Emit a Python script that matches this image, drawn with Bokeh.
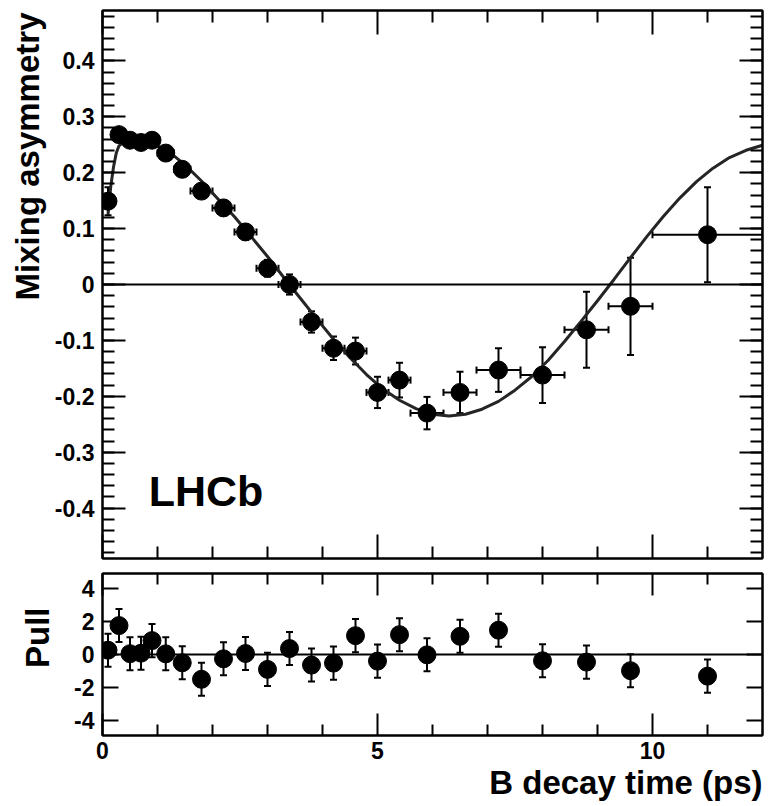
from bokeh.plotting import figure
from bokeh.models import (LinearAxis, Range1d, ColumnDataSource, Whisker, TeeHead,
                          Span, Label, Title, FixedTicker, CustomLabelingPolicy)
from bokeh.layouts import column
from bokeh.embed import file_html
from bokeh.resources import INLINE

# ---------------- data ----------------
t_center = [0.10, 0.30, 0.50, 0.70, 0.90, 1.15, 1.45, 1.80, 2.20, 2.60, 3.00, 3.40,
            3.80, 4.20, 4.60, 5.00, 5.40, 5.90, 6.50, 7.20, 8.00, 8.80, 9.60, 11.00]
t_low = [0.0, 0.2, 0.4, 0.6, 0.8, 1.0, 1.3, 1.6, 2.0, 2.4, 2.8, 3.2,
         3.6, 4.0, 4.4, 4.8, 5.2, 5.6, 6.2, 6.8, 7.6, 8.4, 9.2, 10.0]
t_high = [0.2, 0.4, 0.6, 0.8, 1.0, 1.3, 1.6, 2.0, 2.4, 2.8, 3.2, 3.6,
          4.0, 4.4, 4.8, 5.2, 5.6, 6.2, 6.8, 7.6, 8.4, 9.2, 10.0, 12.0]
asym = [0.149, 0.268, 0.258, 0.254, 0.258, 0.235, 0.206, 0.167, 0.137, 0.094, 0.029, 0.000,
        -0.067, -0.114, -0.119, -0.193, -0.171, -0.230, -0.193, -0.153, -0.162, -0.081, -0.039, 0.089]
asym_err = [0.025, 0.008, 0.008, 0.008, 0.008, 0.010, 0.011, 0.012, 0.013, 0.014, 0.015, 0.018,
            0.019, 0.021, 0.024, 0.028, 0.031, 0.029, 0.037, 0.039, 0.050, 0.068, 0.087, 0.085]
pull = [0.26, 1.75, 0.05, 0.08, 0.84, 0.04, -0.50, -1.50, -0.26, 0.06, -0.90, 0.36,
        -0.64, -0.52, 1.14, -0.40, 1.20, -0.02, 1.10, 1.47, -0.38, -0.46, -0.98, -1.31]
pull_err = [1.0, 1.0, 1.0, 1.0, 1.0, 1.0, 1.0, 1.0, 1.0, 1.0, 1.0, 1.0,
            1.0, 1.0, 1.0, 1.0, 1.0, 1.0, 1.0, 1.0, 1.0, 1.0, 1.0, 1.0]

# fit curve
curve_t = [0.10, 0.15, 0.20, 0.25, 0.30, 0.40, 0.50, 0.70, 0.90, 1.20, 1.50, 1.80, 2.10,
           2.40, 2.70, 3.00, 3.30, 3.60, 3.90, 4.20, 4.50, 4.80, 5.10, 5.40, 5.70, 6.00,
           6.30, 6.60, 6.90, 7.20, 7.50, 7.80, 8.10, 8.40, 8.70, 9.00, 9.30, 9.60, 9.90,
           10.20, 10.50, 10.80, 11.10, 11.40, 11.70, 12.00]
curve_a = [0.125, 0.175, 0.210, 0.235, 0.248, 0.256, 0.259, 0.258, 0.252, 0.238, 0.214, 0.185, 0.153,
           0.121, 0.086, 0.050, 0.012, -0.025, -0.062, -0.098, -0.131, -0.161, -0.187, -0.207, -0.222, -0.232,
           -0.235, -0.232, -0.223, -0.209, -0.189, -0.165, -0.136, -0.102, -0.066, -0.029, 0.009, 0.048, 0.086,
           0.122, 0.155, 0.184, 0.208, 0.227, 0.240, 0.249]

x_ticks = [0, 5, 10]
x_minor = [1, 2, 3, 4, 6, 7, 8, 9, 11]
asym_ticks = [-0.4, -0.3, -0.2, -0.1, 0.0, 0.1, 0.2, 0.3, 0.4]
asym_labels = ["-0.4", "-0.3", "-0.2", "-0.1", "0", "0.1", "0.2", "0.3", "0.4"]
asym_minor = [round(-0.48 + 0.02 * i, 2) for i in range(49)]
pull_ticks = [-4, -2, 0, 2, 4]
pull_labels = ["-4", "-2", "0", "2", "4"]

FONT = "Liberation Sans"
TICK_FS = "23px"
TITLE_FS = "33px"


def make_axis(kind, ticker, overrides, maj_len, min_len, labels):
    ax = LinearAxis(ticker=ticker)
    ax.axis_line_width = 2
    ax.axis_line_color = "black"
    ax.major_tick_in = maj_len
    ax.major_tick_out = 0
    ax.minor_tick_in = min_len
    ax.minor_tick_out = 0
    ax.major_tick_line_width = 2
    ax.minor_tick_line_width = 2
    ax.major_tick_line_color = "black"
    ax.minor_tick_line_color = "black"
    if labels:
        ax.major_label_overrides = overrides
        ax.major_label_text_font = FONT
        ax.major_label_text_font_style = "bold"
        ax.major_label_text_font_size = TICK_FS
        ax.major_label_text_color = "black"
        ax.major_label_standoff = 8 if kind == "y" else 6
    else:
        # frame-side ticks only: no labels drawn at all
        ax.major_label_policy = CustomLabelingPolicy(code="return []")
        ax.major_label_text_font_size = "1px"
        ax.major_label_standoff = 0
    return ax


def style(p):
    p.outline_line_color = "black"
    p.outline_line_width = 2
    p.background_fill_color = "white"
    p.border_fill_color = "white"


x_range = Range1d(0, 12)

# ---------------- top panel ----------------
p1 = figure(width=767, height=562, x_range=x_range, y_range=Range1d(-0.49, 0.49),
            x_axis_type=None, y_axis_type=None, output_backend="svg", toolbar_location=None,
            min_border_left=102, min_border_right=2, min_border_top=10, min_border_bottom=0)
style(p1)

xt = FixedTicker(ticks=x_ticks, minor_ticks=x_minor)
yt = FixedTicker(ticks=asym_ticks, minor_ticks=asym_minor)
yov = {t: s for t, s in zip(asym_ticks, asym_labels)}

p1.add_layout(make_axis("y", yt, yov, 23, 12, True), "left")
p1.add_layout(make_axis("y", yt, {}, 23, 12, False), "right")
p1.add_layout(make_axis("x", xt, {}, 24, 12, False), "below")
p1.add_layout(make_axis("x", xt, {}, 24, 12, False), "above")
p1.add_layout(Title(text="Mixing asymmetry", align="right", offset=2, standoff=12,
                    text_font=FONT, text_font_style="bold", text_font_size=TITLE_FS,
                    text_color="black"), "left")

src = ColumnDataSource(dict(
    t=t_center, lo=t_low, hi=t_high, a=asym,
    alo=[a - e for a, e in zip(asym, asym_err)],
    ahi=[a + e for a, e in zip(asym, asym_err)],
))

p1.add_layout(Span(location=0, dimension="width", line_color="black", line_width=2))
p1.line(curve_t, curve_a, line_width=3, line_color="#252525")
p1.add_layout(Whisker(source=src, base="t", lower="alo", upper="ahi", dimension="height",
                      line_width=2, line_color="black",
                      upper_head=TeeHead(size=7, line_width=2, line_color="black"),
                      lower_head=TeeHead(size=7, line_width=2, line_color="black")))
p1.add_layout(Whisker(source=src, base="a", lower="lo", upper="hi", dimension="width",
                      line_width=2, line_color="black",
                      upper_head=TeeHead(size=7, line_width=2, line_color="black"),
                      lower_head=TeeHead(size=7, line_width=2, line_color="black")))
p1.scatter("t", "a", source=src, size=18, fill_color="black", line_color="black")
p1.add_layout(Label(x=0.84, y=-0.37, text="LHCb", text_font=FONT, text_font_style="bold",
                    text_font_size="43px", text_color="black", text_baseline="middle"))

# ---------------- pull panel ----------------
p2 = figure(width=767, height=242, x_range=x_range, y_range=Range1d(-4.9, 4.9),
            x_axis_type=None, y_axis_type=None, output_backend="svg", toolbar_location=None,
            min_border_left=102, min_border_right=2, min_border_top=11, min_border_bottom=69)
style(p2)

pt = FixedTicker(ticks=pull_ticks, minor_ticks=[])
pov = {t: s for t, s in zip(pull_ticks, pull_labels)}
p2.add_layout(make_axis("y", pt, pov, 16, 0, True), "left")
p2.add_layout(make_axis("y", pt, {}, 16, 0, False), "right")
p2.add_layout(make_axis("x", xt, {}, 22, 11, True), "below")
p2.add_layout(make_axis("x", xt, {}, 22, 11, False), "above")
p2.add_layout(Title(text="Pull", align="right", offset=34, standoff=31,
                    text_font=FONT, text_font_style="bold", text_font_size=TITLE_FS,
                    text_color="black"), "left")
p2.add_layout(Title(text="B decay time (ps)", align="right", offset=0, standoff=0,
                    text_font=FONT, text_font_style="bold", text_font_size=TITLE_FS,
                    text_color="black"), "below")

psrc = ColumnDataSource(dict(
    t=t_center, p=pull,
    plo=[v - e for v, e in zip(pull, pull_err)],
    phi=[v + e for v, e in zip(pull, pull_err)],
))
p2.add_layout(Span(location=0, dimension="width", line_color="black", line_width=2))
p2.add_layout(Whisker(source=psrc, base="t", lower="plo", upper="phi", dimension="height",
                      line_width=2, line_color="black",
                      upper_head=TeeHead(size=7, line_width=2, line_color="black"),
                      lower_head=TeeHead(size=7, line_width=2, line_color="black")))
p2.scatter("t", "p", source=psrc, size=18, fill_color="black", line_color="black")

layout = column(p1, p2)

with open("out.html", "w") as f:
    f.write(file_html(layout, INLINE))
